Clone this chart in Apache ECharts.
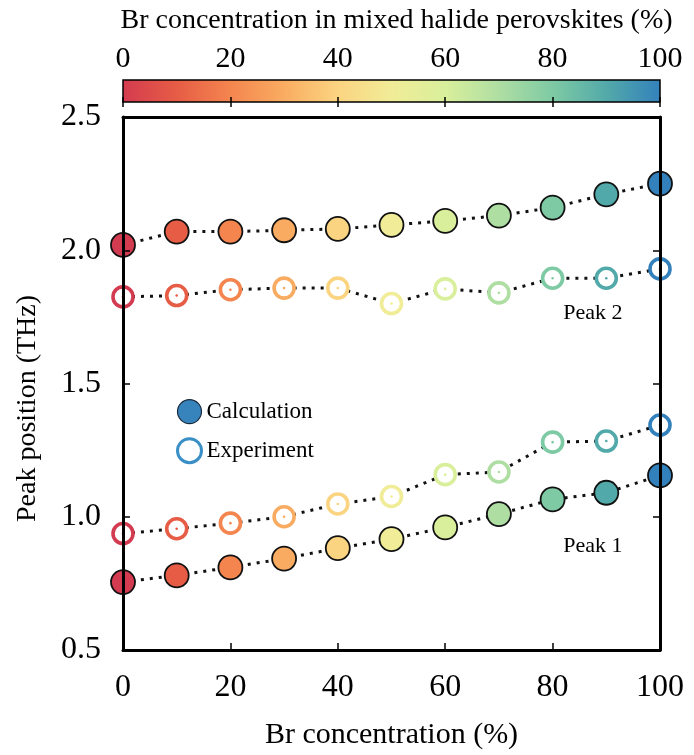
<!DOCTYPE html>
<html>
<head>
<meta charset="utf-8">
<script src="https://cdn.jsdelivr.net/npm/echarts@6/dist/echarts.min.js"></script>
<style>
  html, body { margin: 0; padding: 0; background: #fff; }
  #chart { width: 694px; height: 755px; }
</style>
</head>
<body>
<div id="chart"></div>
<script>
// Br content of the mixed halide perovskite samples (%)
const brContent = [0, 10, 20, 30, 40, 50, 60, 70, 80, 90, 100];

// Peak positions (THz)
const peak2Calc = [2.02, 2.07, 2.07, 2.075, 2.08, 2.095, 2.11, 2.13, 2.16, 2.21, 2.25];
const peak2Exp  = [1.825, 1.83, 1.852, 1.858, 1.858, 1.80, 1.855, 1.84, 1.895, 1.895, 1.93];
const peak1Calc = [0.755, 0.78, 0.81, 0.843, 0.882, 0.916, 0.96, 1.01, 1.065, 1.09, 1.155];
const peak1Exp  = [0.937, 0.955, 0.976, 1.0, 1.048, 1.076, 1.158, 1.168, 1.28, 1.284, 1.344];

// Colour scale (0 % -> 100 % Br)
const scaleColors = ['#d33b50', '#e65c45', '#f4854f', '#f9ac61', '#fbd481',
                     '#f1ec97', '#d9ef9b', '#afdea3', '#7ecaa4', '#52a9a9', '#3381bc'];

const FONT = '"Liberation Serif", "DejaVu Serif", serif';

const pairs = (xs, ys) => xs.map((x, i) => [x, ys[i]]);

const chart = echarts.init(document.getElementById('chart'), null, { renderer: 'canvas' });

function dottedLine(values) {
  return {
    type: 'line',
    data: pairs(brContent, values),
    symbol: 'none',
    silent: true,
    z: 1,
    lineStyle: { color: '#111', width: 3, type: [3, 6], cap: 'butt' }
  };
}

const option = {
  animation: false,
  backgroundColor: '#fff',
  grid: [
    { left: 123, top: 117, width: 537, height: 538, containLabel: false },
    { left: 123, top: 80, width: 537, height: 22, containLabel: false }
  ],
  xAxis: [
    {
      gridIndex: 0, type: 'value', min: 0, max: 100, interval: 20,
      position: 'bottom', z: 10,
      axisLine: { show: true, onZero: false, lineStyle: { color: '#000', width: 3 } },
      axisTick: { show: true, inside: true, length: 7, lineStyle: { color: '#000', width: 1.5 } },
      axisLabel: { fontFamily: FONT, fontSize: 32, color: '#000', margin: 22 },
      splitLine: { show: false },
      name: 'Br concentration (%)', nameLocation: 'middle', nameGap: 70,
      nameTextStyle: { fontFamily: FONT, fontSize: 30, color: '#000' }
    },
    {
      gridIndex: 0, type: 'value', min: 0, max: 100, interval: 20,
      position: 'top', z: 10,
      axisLine: { show: true, onZero: false, lineStyle: { color: '#000', width: 3 } },
      axisTick: { show: false }, axisLabel: { show: false }, splitLine: { show: false }
    },
    {
      gridIndex: 1, type: 'value', min: 0, max: 100, interval: 20,
      position: 'top', z: 10,
      axisLine: { show: false },
      axisTick: { show: true, inside: true, length: 5, lineStyle: { color: '#000', width: 1.5 } },
      axisLabel: { fontFamily: FONT, fontSize: 30, color: '#000', margin: 6 },
      splitLine: { show: false },
      name: 'Br concentration in mixed halide perovskites (%)', nameLocation: 'middle', nameGap: 45,
      nameTextStyle: { fontFamily: FONT, fontSize: 28, color: '#000', padding: [0, 0, 0, 10] }
    },
    {
      gridIndex: 1, type: 'value', min: 0, max: 100, interval: 20,
      position: 'bottom', z: 10,
      axisLine: { show: false },
      axisTick: { show: true, inside: true, length: 5, lineStyle: { color: '#000', width: 1.5 } },
      axisLabel: { show: false }, splitLine: { show: false }
    }
  ],
  yAxis: [
    {
      gridIndex: 0, type: 'value', min: 0.5, max: 2.5, interval: 0.5,
      position: 'left', z: 10,
      axisLine: { show: true, onZero: false, lineStyle: { color: '#000', width: 3 } },
      axisTick: { show: true, inside: true, length: 7, lineStyle: { color: '#000', width: 1.5 } },
      axisLabel: {
        fontFamily: FONT, fontSize: 32, color: '#000', margin: 22,
        formatter: v => v.toFixed(1)
      },
      splitLine: { show: false },
      name: 'Peak position (THz)', nameLocation: 'middle', nameGap: 81,
      nameTextStyle: { fontFamily: FONT, fontSize: 28, color: '#000', padding: [0, 50, 0, 0] }
    },
    {
      gridIndex: 0, type: 'value', min: 0.5, max: 2.5, interval: 0.5,
      position: 'right', z: 10,
      axisLine: { show: true, onZero: false, lineStyle: { color: '#000', width: 3 } },
      axisTick: { show: true, inside: true, length: 7, lineStyle: { color: '#000', width: 1.5 } },
      axisLabel: { show: false }, splitLine: { show: false }
    },
    {
      gridIndex: 1, type: 'value', min: 0, max: 1, show: false
    }
  ],
  visualMap: {
    show: false,
    type: 'continuous',
    dimension: 0,
    min: 0, max: 100,
    seriesIndex: [4, 5],
    inRange: { color: scaleColors }
  },
  legend: {
    left: 176, top: 399, orient: 'vertical', padding: 0,
    itemWidth: 24, itemHeight: 24, itemGap: 13,
    textStyle: { fontFamily: FONT, fontSize: 23, color: '#000' },
    data: [
      { name: 'Calculation', icon: 'circle',
        itemStyle: { color: '#3784bd', borderColor: '#1a2a3a', borderWidth: 1.2 } },
      { name: 'Experiment', icon: 'circle',
        itemStyle: { color: '#fff', borderColor: '#3a8fc6', borderWidth: 3 } }
    ]
  },
  series: [
    dottedLine(peak2Calc),
    dottedLine(peak2Exp),
    dottedLine(peak1Calc),
    dottedLine(peak1Exp),
    {
      name: 'Calculation',
      type: 'scatter',
      data: pairs(brContent, peak2Calc).concat(pairs(brContent, peak1Calc)),
      symbol: 'circle',
      symbolSize: 24,
      z: 3,
      clip: false,
      itemStyle: { borderColor: '#111', borderWidth: 1.8, opacity: 1 }
    },
    {
      // open rings, stroked in the colour-scale colour
      name: 'Experiment',
      type: 'custom',
      data: pairs(brContent, peak2Exp).concat(pairs(brContent, peak1Exp)),
      z: 3,
      clip: false,
      renderItem: function (params, api) {
        const c = api.coord([api.value(0), api.value(1)]);
        const color = api.visual('color');
        return {
          type: 'group',
          children: [
            { type: 'circle', shape: { cx: c[0], cy: c[1], r: 10 },
              style: { fill: '#fff', stroke: color, lineWidth: 3.6 } },
            { type: 'circle', shape: { cx: c[0], cy: c[1], r: 1.3 },
              style: { fill: color } }
          ]
        };
      }
    },
    {
      // colour bar
      type: 'custom',
      xAxisIndex: 2,
      yAxisIndex: 2,
      silent: true,
      z: 1,
      data: [[0, 100]],
      renderItem: function (params, api) {
        const p0 = api.coord([api.value(0), 1]);
        const p1 = api.coord([api.value(1), 0]);
        const stops = scaleColors.map((c, i) => ({ offset: i / (scaleColors.length - 1), color: c }));
        return {
          type: 'rect',
          shape: { x: p0[0], y: p0[1], width: p1[0] - p0[0], height: p1[1] - p0[1] },
          style: {
            fill: new echarts.graphic.LinearGradient(0, 0, 1, 0, stops),
            stroke: '#000',
            lineWidth: 1.5
          }
        };
      }
    }
  ]
};

chart.setOption(option);

// Peak labels placed in data coordinates
const peakLabels = [
  { text: 'Peak 2', at: [87.5, 1.765] },
  { text: 'Peak 1', at: [87.5, 0.89] }
];
chart.setOption({
  graphic: peakLabels.map(l => {
    const p = chart.convertToPixel({ xAxisIndex: 0, yAxisIndex: 0 }, l.at);
    return {
      type: 'text', x: p[0], y: p[1],
      style: {
        text: l.text, fontFamily: FONT, fontSize: 22, fill: '#000',
        align: 'center', verticalAlign: 'middle'
      }
    };
  })
});
</script>
</body>
</html>
